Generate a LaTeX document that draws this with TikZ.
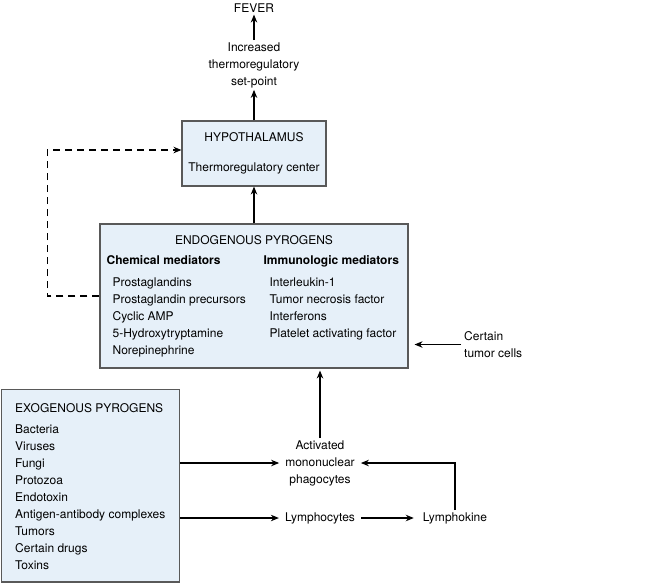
\documentclass[tikz,border=0pt]{standalone}
\usepackage{fontspec}
\setmainfont{TeX Gyre Heros}
\usepackage{xcolor}
\usepackage{tikz}
\usetikzlibrary{arrows.meta, positioning}
\definecolor{paleblue}{RGB}{230,240,249}

\begin{document}
\begin{tikzpicture}[
        x=1pt, y=-1pt,
        every node/.style={font=\fontsize{12pt}{17pt}\selectfont},
        box/.style={rectangle, draw=black!65, line width=1.1pt, fill=paleblue},
        txt/.style={align=center, inner xsep=6pt, inner ysep=2pt},
        list/.style={align=left, inner sep=0pt, anchor=north west},
        head/.style={inner sep=0pt, anchor=base west},
        arrow/.style={-{Stealth[length=8pt, width=6.5pt]}, line width=1.1pt},
        feedback/.style={arrow, dash pattern=on 7pt off 5pt}
    ]
        \useasboundingbox (0,0) rectangle (650,582);

        \node[txt] (fever) at (254,8) {FEVER};
        \node[txt] (setpoint) at (254,65) {Increased\\thermoregulatory\\set-point};
        \node[box, align=center, minimum width=144pt, minimum height=65pt] (hypo) at (254,153.5) {HYPOTHALAMUS\\[13pt]Thermoregulatory center};

        \node[box, minimum width=308pt, minimum height=144pt] (endo) at (254,296) {};
        \node[anchor=base, inner sep=0pt] (endotitle) at ([yshift=-21pt]endo.north) {ENDOGENOUS PYROGENS};
        \node[head] (chemhead) at ([xshift=7pt, yshift=-41pt]endo.north west) {\bfseries Chemical mediators};
        \node[head] (immhead) at ([xshift=164pt, yshift=-41pt]endo.north west) {\bfseries Immunologic mediators};
        \node[list] (chemlist) at ([xshift=13pt, yshift=-54.5pt]endo.north west) {Prostaglandins\\Prostaglandin precursors\\Cyclic AMP\\5-Hydroxytryptamine\\Norepinephrine};
        \node[list] (immlist) at ([xshift=170pt, yshift=-54.5pt]endo.north west) {Interleukin-1\\Tumor necrosis factor\\Interferons\\Platelet activating factor};

        \node[align=left, anchor=west, inner sep=3pt] (tumor) at (461,344.5) {Certain\\tumor cells};

        \node[box, anchor=north west, minimum width=178.4pt, minimum height=192.4pt] (exo) at (0.6,389) {};
        \node[list] (exolist) at ([xshift=14.4pt, yshift=-14pt]exo.north west) {EXOGENOUS PYROGENS\\[4pt]Bacteria\\Viruses\\Fungi\\Protozoa\\Endotoxin\\Antigen-antibody complexes\\Tumors\\Certain drugs\\Toxins};

        \node[txt] (act) at (320,463) {Activated\\mononuclear\\phagocytes};
        \node[txt] (lymph) at (320,518) {Lymphocytes};
        \node[txt] (lymphok) at (455,518) {Lymphokine};

        \draw[arrow] (setpoint) -- (fever);
        \draw[arrow] (hypo) -- (setpoint);
        \draw[arrow] (endo) -- (hypo);
        \draw[feedback] (endo.west) -- ++(-52,0) |- ([yshift=3.5pt]hypo.west);
        \draw[arrow, shorten >=6pt] (tumor.west) -- (tumor.west -| endo.east);
        \draw[arrow, shorten >=2pt] (act.north) -- (act.north |- endo.south);
        \draw[arrow] (exo.east |- act) -- (act.west);
        \draw[arrow] (exo.east |- lymph) -- (lymph.west);
        \draw[arrow, shorten >=3pt] (lymph) -- (lymphok);
        \draw[arrow] (lymphok.north) |- (act.east);
    \end{tikzpicture}
\end{document}
